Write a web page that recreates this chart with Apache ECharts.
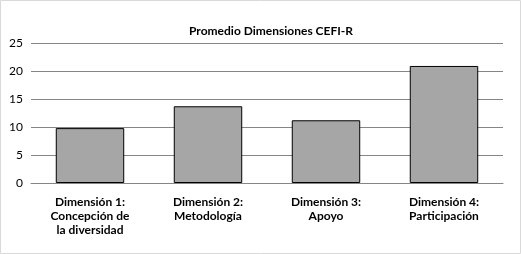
<!DOCTYPE html>
<html>
<head>
<meta charset="utf-8">
<script src="https://cdn.jsdelivr.net/npm/echarts@6/dist/echarts.min.js"></script>
<style>
  html, body { margin: 0; padding: 0; background: #fff; }
  #main { width: 521px; height: 254px; }
</style>
</head>
<body>
<div id="main"></div>
<script>
let categories = [
    "Dimensión 1:\nConcepción de\nla diversidad",
    "Dimensión 2:\nMetodología",
    "Dimensión 3:\nApoyo",
    "Dimensión 4:\nParticipación",
];
let promedios = [9.8, 13.7, 11.2, 20.9];

let dom = document.getElementById("main");
let myChart = echarts.init(dom, null, { renderer: "canvas" });

let option = {
    animation: false,
    backgroundColor: "#fff",
    title: {
        text: "Promedio Dimensiones CEFI-R",
        left: 266,
        textAlign: "center",
        top: 20,
        textStyle: { fontFamily: "Lato", fontWeight: "bold", fontSize: 12, color: "#000" },
    },
    graphic: [{
        type: "rect",
        shape: { x: 0.5, y: 0.5, width: 520, height: 253 },
        style: { fill: "none", stroke: "#d9d9d9", lineWidth: 1 },
    }],
    grid: { left: 31, right: 18, top: 43, bottom: 71 },
    xAxis: {
        type: "category",
        data: categories,
        axisTick: { show: false },
        axisLine: { lineStyle: { color: "#868686" } },
        axisLabel: {
            interval: 0,
            margin: 12,
            lineHeight: 14,
            fontFamily: "Lato",
            fontWeight: "bold",
            fontSize: 12,
            color: "#000",
        },
    },
    yAxis: {
        type: "value",
        min: 0,
        max: 25,
        interval: 5,
        axisLabel: { fontFamily: "Lato", fontSize: 12, color: "#000", margin: 8 },
        splitLine: { lineStyle: { color: "#868686" } },
    },
    series: [{
        type: "bar",
        data: promedios,
        barWidth: "58%",
        itemStyle: { color: "#a6a6a6", borderColor: "#000", borderWidth: 1 },
    }],
};

myChart.setOption(option);
window.addEventListener("resize", myChart.resize);
</script>
</body>
</html>
